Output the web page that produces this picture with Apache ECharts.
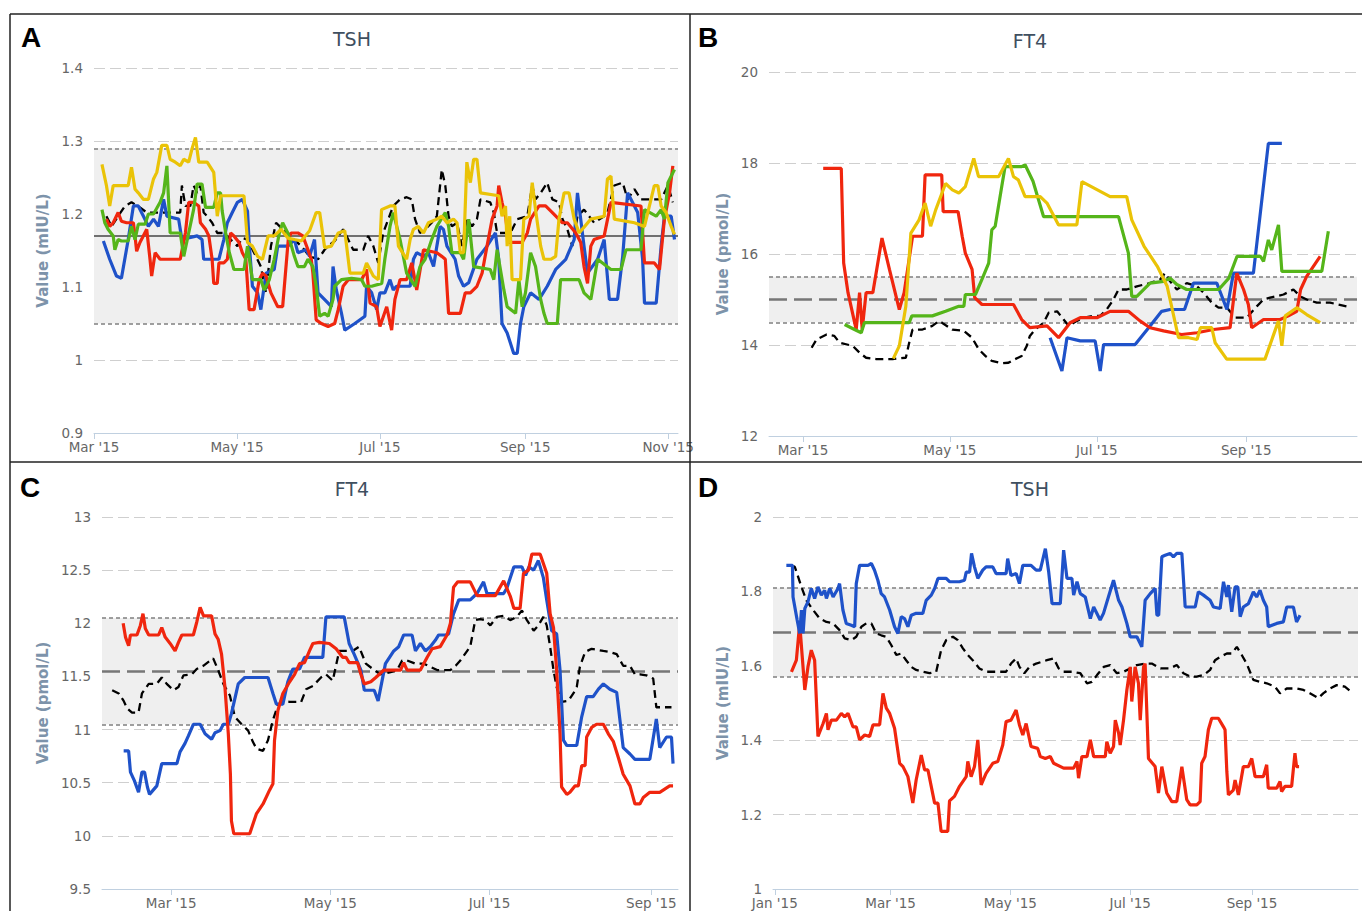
<!DOCTYPE html>
<html><head><meta charset="utf-8">
<script src="https://cdn.jsdelivr.net/npm/echarts@6/dist/echarts.min.js"></script>
<style>html,body{margin:0;padding:0;background:#fff}#c{width:1362px;height:911px}</style>
</head><body><div id="c"></div>
<script>
// x values are day numbers of 2015 (0 = 1 Jan 2015)
const aTickDays = [59, 120, 181, 243, 304];
const aTickLabels = ["Mar '15", "May '15", "Jul '15", "Sep '15", "Nov '15"];
const bTickDays = [59, 120, 181, 243];
const bTickLabels = ["Mar '15", "May '15", "Jul '15", "Sep '15"];
const cTickDays = [59, 120, 181, 243];
const cTickLabels = ["Mar '15", "May '15", "Jul '15", "Sep '15"];
const dTickDays = [0, 59, 120, 181, 243];
const dTickLabels = ["Jan '15", "Mar '15", "May '15", "Jul '15", "Sep '15"];

// reference ranges [low, mid, high]
const aRange = [1.05, 1.17, 1.29];
const bRange = [14.5, 15, 15.5];
const cRange = [11.05, 11.55, 12.05];
const dRange = [1.57, 1.69, 1.81];

// ---- Panel A : TSH (mIU/L)
const aBlack = [[64.3,1.197],[66.5,1.183],[69.3,1.197],[72.2,1.211],[75,1.216],[78.6,1.209],[81.5,1.202],[95.8,1.202],[96.5,1.239],[98,1.211],[100.1,1.211],[101.5,1.239],[103,1.229],[104.4,1.239],[105.8,1.202],[107.3,1.197],[109.4,1.188],[111.6,1.174],[114.4,1.174],[117.3,1.165],[120.2,1.156],[122.3,1.167],[124.5,1.165],[127.3,1.147],[130.2,1.128],[132.4,1.092],[134.5,1.156],[136.7,1.188],[139.5,1.179],[141.7,1.174],[144.5,1.165],[147.4,1.156],[151,1.142],[154.6,1.138],[157.4,1.151],[159.6,1.158],[161.7,1.163],[165.3,1.179],[167.5,1.165],[169.6,1.151],[173.9,1.151],[176,1.170],[178.2,1.156],[180.3,1.133],[182.4,1.174],[184.6,1.193],[186.7,1.211],[189.6,1.220],[192.4,1.223],[194.6,1.220],[196,1.193],[198.1,1.174],[200.3,1.179],[203.1,1.188],[205.3,1.197],[207.4,1.261],[208.9,1.239],[210.3,1.197],[211.7,1.183],[213.9,1.188],[216,1.156],[218.1,1.193],[220.3,1.183],[222.4,1.193],[223.9,1.220],[228.1,1.216],[229.6,1.202],[231,1.174],[236.7,1.174],[239.6,1.193],[243.9,1.197],[246,1.239],[247.4,1.220],[249.6,1.229],[252.4,1.243],[254.6,1.220],[257.4,1.216],[258.9,1.193],[261,1.179],[263.1,1.156],[265.3,1.197],[268.1,1.206],[272.4,1.188],[276.7,1.197],[278.1,1.202],[281,1.239],[284.6,1.243],[286.7,1.220],[289.6,1.234],[292.4,1.220],[301,1.220],[303.9,1.239],[306,1.216]];
const aBlue = [[63,1.163],[65.7,1.138],[68.6,1.115],[70.7,1.112],[73.6,1.165],[75.8,1.211],[77.9,1.211],[80.1,1.197],[82.2,1.183],[84.4,1.193],[86.5,1.183],[88.7,1.220],[90.1,1.197],[95.1,1.193],[96.5,1.165],[103,1.170],[105.1,1.165],[105.8,1.138],[112.3,1.138],[114.4,1.165],[115.9,1.188],[118,1.202],[120.2,1.216],[122.3,1.220],[124.5,1.204],[125.2,1.161],[126.6,1.101],[128.8,1.092],[130.2,1.069],[132.4,1.119],[135.9,1.124],[137.4,1.156],[141.7,1.156],[144.5,1.165],[146,1.147],[149.5,1.151],[151,1.142],[153.1,1.165],[154.6,1.092],[158.9,1.078],[160.3,1.073],[161,1.128],[162.4,1.096],[164.6,1.064],[166,1.041],[170.3,1.050],[174.6,1.060],[175.3,1.101],[177.5,1.092],[179.6,1.069],[181,1.092],[183.1,1.092],[185.3,1.110],[186.7,1.096],[188.1,1.101],[193.9,1.101],[195.3,1.138],[196.7,1.147],[199.6,1.142],[201.7,1.147],[203.9,1.128],[205.3,1.156],[206.7,1.183],[208.1,1.179],[209.6,1.156],[213.1,1.138],[214.6,1.115],[216.7,1.101],[218.9,1.106],[222.4,1.138],[226.7,1.156],[230.3,1.174],[231.7,1.138],[233.1,1.050],[235.3,1.037],[238.1,1.009],[239.6,1.009],[241,1.050],[242.4,1.073],[245.3,1.092],[248.9,1.083],[252.4,1.101],[256,1.124],[260.3,1.138],[263.9,1.165],[265.3,1.229],[268.1,1.156],[269.6,1.119],[273.9,1.138],[276.7,1.165],[278.9,1.083],[282.4,1.083],[284.6,1.142],[286.7,1.229],[291,1.202],[293.1,1.138],[293.9,1.078],[298.9,1.078],[301,1.156],[302.4,1.197],[305.3,1.197],[306.7,1.165]];
const aRed = [[64.3,1.193],[65.7,1.183],[67.2,1.188],[69.3,1.202],[70.7,1.190],[72.9,1.188],[75.8,1.188],[76.5,1.170],[77.2,1.149],[78.6,1.161],[81.5,1.179],[82.9,1.138],[83.6,1.115],[85.1,1.147],[87.2,1.138],[95.8,1.138],[98,1.174],[99.4,1.216],[101.5,1.216],[103.7,1.211],[104.4,1.188],[106.6,1.179],[108,1.170],[109.4,1.138],[110.1,1.105],[111.6,1.105],[112.3,1.133],[114.4,1.133],[115.9,1.138],[117.3,1.174],[118.7,1.170],[120.9,1.161],[122.3,1.147],[123.8,1.138],[125.2,1.069],[127.3,1.069],[129.5,1.110],[130.9,1.119],[132.4,1.115],[134.5,1.092],[137.4,1.073],[139.5,1.073],[141.9,1.165],[143.1,1.174],[146,1.174],[148.1,1.170],[150.3,1.151],[151.7,1.138],[152.4,1.119],[153.8,1.055],[156,1.050],[158.9,1.046],[161.7,1.050],[163.2,1.069],[165.3,1.101],[167.5,1.110],[173.2,1.110],[175.3,1.124],[176.8,1.078],[179.6,1.073],[181,1.046],[183.9,1.073],[186,1.041],[187.4,1.083],[189.6,1.110],[192.4,1.110],[194.6,1.133],[196.7,1.096],[199.6,1.151],[205.3,1.147],[207.4,1.142],[208.9,1.138],[210.3,1.064],[215.3,1.064],[217.4,1.092],[219.6,1.092],[222.4,1.101],[224.6,1.119],[226.7,1.156],[228.9,1.193],[231,1.211],[231.7,1.239],[233.1,1.216],[234.6,1.197],[236,1.161],[241.7,1.161],[243.9,1.174],[245.3,1.193],[248.9,1.211],[251.7,1.211],[254.6,1.202],[258.9,1.188],[261,1.188],[264.6,1.174],[266.7,1.161],[268.1,1.128],[269.6,1.105],[271,1.156],[272.4,1.165],[276.7,1.170],[279.6,1.216],[292.4,1.211],[293.9,1.133],[298.1,1.133],[300.3,1.124],[302.4,1.193],[304.6,1.229],[306,1.266]];
const aGreen = [[62.4,1.206],[63.6,1.188],[65,1.179],[67.2,1.170],[67.9,1.151],[69.3,1.165],[70.7,1.163],[73.6,1.163],[75,1.183],[76.5,1.165],[77.9,1.186],[80.8,1.186],[82.2,1.200],[84.4,1.200],[87.2,1.216],[88.7,1.229],[90.1,1.266],[91.5,1.174],[95.8,1.174],[97.3,1.142],[99.4,1.174],[101.5,1.206],[103,1.241],[105.1,1.241],[106.6,1.209],[110.1,1.209],[111.6,1.229],[113,1.229],[113.7,1.204],[115.2,1.174],[116.6,1.149],[118.7,1.124],[123,1.124],[124.5,1.156],[126.6,1.110],[130.2,1.110],[131.6,1.096],[133.8,1.110],[135.9,1.138],[138.1,1.174],[139.5,1.188],[141.7,1.174],[144.5,1.142],[146,1.128],[148.8,1.128],[150.3,1.138],[152.4,1.128],[153.8,1.101],[155.3,1.060],[157.4,1.064],[158.9,1.060],[161,1.083],[161.7,1.101],[164.6,1.110],[168.9,1.112],[173.2,1.110],[174.6,1.101],[177.5,1.101],[181.8,1.105],[183.1,1.138],[185.3,1.183],[186.7,1.202],[189.6,1.165],[192.4,1.119],[196,1.101],[198.1,1.128],[200.3,1.138],[203.1,1.165],[205.3,1.183],[208.9,1.202],[210.3,1.183],[211.7,1.147],[215.3,1.147],[216.7,1.138],[218.9,1.193],[221,1.128],[228.1,1.124],[229.6,1.110],[231,1.151],[233.9,1.096],[235.3,1.073],[238.9,1.064],[240.3,1.110],[241.7,1.073],[243.1,1.092],[245.3,1.147],[247.4,1.128],[249.6,1.083],[251,1.064],[252.4,1.050],[256.7,1.050],[258.1,1.110],[266,1.110],[268.1,1.092],[271,1.083],[273.9,1.138],[279.6,1.124],[283.9,1.124],[286,1.151],[292.4,1.151],[293.9,1.206],[298.9,1.197],[301,1.206],[302.4,1.193],[303.9,1.243],[306.7,1.261]];
const aYellow = [[62.4,1.268],[64.3,1.239],[65.7,1.211],[67.2,1.239],[73.6,1.239],[75,1.264],[76.5,1.234],[77.9,1.229],[80.1,1.220],[82.2,1.220],[84.4,1.248],[85.8,1.257],[87.9,1.294],[90.1,1.294],[91.5,1.275],[93.7,1.271],[95.8,1.266],[97.3,1.275],[99.4,1.271],[100.8,1.289],[102.3,1.305],[103.7,1.271],[107.3,1.271],[110.1,1.257],[111.6,1.197],[113,1.225],[123,1.225],[124.5,1.161],[126.6,1.156],[128.8,1.142],[130.9,1.138],[133.3,1.170],[135.9,1.170],[138.8,1.179],[141.7,1.167],[144.5,1.165],[147.4,1.163],[151,1.177],[153.8,1.202],[155.3,1.202],[157.4,1.154],[160.3,1.156],[163.2,1.174],[166,1.177],[168.2,1.119],[173.9,1.119],[175.3,1.133],[178.2,1.115],[180.3,1.110],[181.7,1.206],[185.3,1.211],[187.4,1.211],[188.9,1.156],[192.4,1.138],[193.9,1.165],[195.3,1.179],[197.4,1.183],[199.6,1.174],[201.7,1.188],[205.3,1.193],[207.4,1.197],[209.6,1.188],[212.4,1.193],[213.9,1.188],[215.3,1.147],[216.7,1.147],[218.1,1.271],[219.6,1.243],[221,1.275],[222.4,1.275],[223.9,1.229],[231.7,1.225],[233.1,1.197],[234.6,1.211],[235.3,1.156],[236.4,1.197],[237.4,1.110],[241,1.110],[242.4,1.193],[244.6,1.197],[246,1.243],[247.4,1.206],[249.6,1.156],[251,1.138],[253.9,1.138],[256,1.142],[257.4,1.193],[259.6,1.229],[261.7,1.229],[263.9,1.193],[266,1.174],[271,1.193],[276.7,1.197],[278.1,1.248],[279.6,1.252],[281,1.193],[289.6,1.188],[293.9,1.183],[296,1.211],[298.1,1.239],[299.6,1.239],[301,1.211],[303.1,1.202],[305.3,1.183],[306.7,1.172]];

// ---- Panel B : FT4 (pmol/L)
const bBlack = [[62.6,13.94],[64.6,14.12],[68.8,14.23],[72,14.2],[74.2,14.05],[79.7,13.98],[82.5,13.83],[85.2,13.72],[89.4,13.69],[96.2,13.69],[101.7,13.72],[103.1,14.05],[104.5,14.34],[108.6,14.34],[112.7,14.42],[115.5,14.53],[121,14.34],[125.8,14.31],[129.2,14.16],[131.9,13.91],[134.7,13.76],[137.4,13.65],[141.6,13.60],[144.3,13.61],[147.1,13.69],[149.8,13.76],[151.9,13.98],[153.2,14.20],[155.4,14.34],[158.9,14.49],[161,14.71],[164.5,14.74],[167.2,14.56],[169.3,14.42],[172.7,14.53],[175.5,14.6],[179.6,14.64],[182.4,14.64],[185.1,14.78],[187.9,15.0],[190,15.22],[193.4,15.22],[197.6,15.29],[203.1,15.36],[207.3,15.44],[209.3,15.58],[211.4,15.40],[214.2,15.22],[218.3,15.36],[222.6,15.29],[225.3,15.15],[228.7,14.93],[231.5,14.82],[235,14.82],[238.4,14.60],[243.2,14.60],[247.4,14.85],[250.2,15.0],[252.9,15.04],[258.5,15.11],[262.6,15.22],[265.4,15.07],[268.1,15.0],[272.3,14.93],[277.8,14.93],[284.7,14.85]];
const bBlue = [[161.6,14.16],[166.5,13.43],[168.6,14.16],[174.1,14.09],[180.3,14.09],[182.4,13.43],[183.8,14.01],[196.9,14.01],[203.1,14.42],[207.9,14.74],[211.4,14.78],[217.4,14.78],[221.1,15.36],[230.8,15.36],[235,14.78],[237.7,15.58],[246,15.58],[252.2,18.43],[257.8,18.43]];
const bRed = [[67.4,17.88],[74.9,17.88],[75.9,15.80],[77.7,15.15],[81.1,14.34],[82.5,15.15],[83.6,14.34],[85.2,15.15],[88,15.15],[91.8,16.35],[94.9,15.66],[99,14.78],[101,15.15],[104.5,16.39],[108.6,16.39],[109.7,17.74],[116.6,17.74],[117.2,16.93],[123.4,16.93],[125.1,16.39],[126.4,16.02],[129.2,15.66],[130.3,15.04],[133.3,14.89],[146.4,14.89],[149.8,14.56],[153.2,14.38],[160.3,14.42],[165.1,14.16],[169.9,14.49],[174.1,14.6],[181,14.6],[186.5,14.74],[194.1,14.74],[198.9,14.53],[203.1,14.38],[208.7,14.31],[216.2,14.23],[222.6,14.27],[229.4,14.34],[236.3,14.38],[239.1,15.58],[241.9,15.22],[243.9,14.89],[245.3,14.38],[250.2,14.56],[257.1,14.56],[260.5,14.64],[264,14.74],[265.6,15.22],[268.1,15.51],[273.7,15.95]];
const bGreen = [[76.3,14.45],[80.4,14.34],[83.2,14.27],[84.5,14.49],[103.1,14.49],[104.2,14.64],[112.7,14.64],[118.2,14.74],[123.7,14.85],[125.8,14.85],[126.4,15.11],[130.6,15.11],[133.3,15.44],[136.1,15.80],[137.4,16.53],[138.8,16.61],[141.5,17.48],[142.9,17.92],[149.8,17.92],[151.2,17.96],[154.5,17.6],[158.9,16.82],[190,16.82],[194.1,16.02],[195.5,15.07],[197.6,15.07],[203.1,15.36],[208.7,15.40],[211.4,15.47],[214.2,15.33],[218.3,15.22],[231.6,15.22],[235.8,15.47],[239.2,15.95],[248.9,15.95],[250.2,15.84],[252.2,16.31],[253.6,16.09],[256.4,16.64],[257.8,15.62],[274.4,15.62],[277.1,16.50]];
const bYellow = [[96.5,13.70],[99,13.98],[101.7,14.85],[103.8,16.46],[107.2,16.75],[109.7,17.12],[112,16.61],[114.1,16.97],[118.2,17.55],[121,17.41],[123.7,17.34],[126.4,17.48],[129.9,18.10],[131.9,17.70],[140.2,17.70],[144.3,18.10],[146.4,17.70],[148.4,17.63],[151.2,17.26],[157.5,17.26],[160.3,17.12],[165.1,16.64],[172.7,16.64],[174.8,17.59],[186.5,17.26],[193.4,17.26],[195.5,16.75],[200.6,16.17],[206.1,15.73],[210.2,15.29],[214.9,14.16],[219.1,14.16],[222.6,14.12],[224,14.38],[228.7,14.38],[230.1,14.05],[234.9,13.69],[250.8,13.69],[256.4,14.53],[257.8,13.98],[259.2,14.64],[264,14.82],[268.1,14.67],[273.7,14.49]];

// ---- Panel C : FT4 (pmol/L)
const cBlack = [[36.4,11.37],[38.9,11.34],[40.8,11.27],[42.1,11.20],[44,11.16],[46.5,11.16],[47.8,11.34],[50.4,11.43],[53.5,11.43],[55.4,11.49],[57.3,11.43],[59.9,11.37],[61.8,11.40],[63.7,11.51],[66.9,11.52],[68.8,11.57],[71.3,11.60],[75.1,11.67],[77,11.56],[79,11.43],[81.5,11.32],[83.4,11.12],[86,11.05],[88.5,10.99],[90.4,10.88],[91.7,10.82],[94.2,10.80],[96.1,10.90],[98,11.09],[99.9,11.23],[101.8,11.27],[104.4,11.26],[108.8,11.26],[110.7,11.38],[113.3,11.41],[116.4,11.49],[118.3,11.52],[120.9,11.46],[123.4,11.74],[128.5,11.74],[131,11.78],[133.6,11.62],[136.8,11.56],[139.2,11.52],[143.1,11.54],[145.6,11.56],[147.5,11.65],[149.4,11.65],[152.6,11.62],[155.8,11.62],[158.3,11.59],[160.9,11.56],[166,11.56],[168,11.60],[169.8,11.65],[173.6,11.78],[175.5,12.03],[177.4,12.04],[179.3,12.03],[181.3,11.98],[183.8,12.06],[186.4,12.07],[188.9,12.03],[191.4,12.06],[193.4,12.12],[195.3,12.03],[197.9,11.93],[199.7,11.98],[201.6,12.06],[202.9,11.98],[204.2,11.78],[205.5,11.56],[206.7,11.40],[208.6,11.26],[211.2,11.27],[213.1,11.34],[214.4,11.40],[215.6,11.59],[217.6,11.73],[220.1,11.76],[224.6,11.74],[227.1,11.73],[229.7,11.71],[232.2,11.60],[234.8,11.60],[236.7,11.52],[238.6,11.52],[241.1,11.51],[243.7,11.48],[244.9,11.21],[250.7,11.21]];
const cBlue = [[40.8,10.80],[42.7,10.80],[43.4,10.60],[44.9,10.52],[46.5,10.41],[47.8,10.60],[48.8,10.60],[49.9,10.46],[50.7,10.39],[53.5,10.47],[55.4,10.68],[61.2,10.68],[62.4,10.79],[64.3,10.87],[65.6,10.94],[67.5,11.05],[70.1,11.05],[72,10.96],[74.5,10.91],[75.8,10.97],[77.7,10.99],[79,11.05],[80.9,11.05],[82.1,11.15],[84.7,11.43],[87.2,11.49],[96.1,11.49],[98,11.34],[99.3,11.24],[101.8,11.24],[103.7,11.45],[105.6,11.57],[108.2,11.57],[110.1,11.68],[117.1,11.68],[118.3,12.06],[125.3,12.06],[127.2,11.81],[129.1,11.71],[131.7,11.56],[133,11.37],[136.8,11.37],[138.3,11.27],[141.1,11.62],[144.3,11.74],[146.2,11.78],[148.1,11.89],[151.3,11.89],[152.6,11.74],[154.5,11.81],[156.4,11.74],[158.3,11.78],[160.2,11.84],[161.5,11.89],[164.1,11.89],[165.3,11.90],[167.2,12.09],[169.2,12.22],[173.6,12.22],[176.2,12.28],[178.7,12.39],[180,12.28],[186.4,12.28],[187.6,12.33],[190.3,12.53],[193.4,12.53],[194.8,12.45],[196.1,12.53],[197.9,12.50],[199.7,12.59],[201.6,12.43],[202.9,12.22],[204.8,11.93],[206.7,11.90],[208,11.56],[209.3,10.90],[210.6,10.85],[214.4,10.85],[216.3,11.12],[218.2,11.31],[220.7,11.31],[222.7,11.38],[224.6,11.43],[227.1,11.38],[229.7,11.35],[232.2,10.83],[234.8,10.77],[236.7,10.72],[242.4,10.72],[244.9,11.10],[246.2,10.83],[248.8,10.93],[250.7,10.93],[251.3,10.68]];
const cRed = [[40.6,12.0],[41.5,11.87],[42.7,11.79],[43.4,11.89],[45.9,11.89],[47.2,11.98],[48.2,12.09],[49.1,11.95],[50.4,11.89],[54.2,11.89],[55.4,11.96],[56.7,11.87],[58.6,11.81],[60.5,11.74],[61.8,11.82],[63.1,11.89],[67.5,11.89],[68.8,12.01],[70.1,12.15],[71.4,12.07],[74.5,12.07],[75.8,11.90],[77,11.85],[78.3,11.71],[79.6,11.40],[80.9,10.96],[81.7,10.58],[82.1,10.14],[83,10.02],[89.1,10.02],[91.7,10.21],[94.2,10.30],[96.7,10.43],[98,10.49],[98.6,10.90],[99.9,11.18],[101.8,11.34],[104.4,11.45],[106.3,11.52],[108.2,11.62],[110.1,11.63],[112,11.74],[113.3,11.81],[115.8,11.82],[119.6,11.81],[122.2,11.76],[124.7,11.68],[126,11.68],[127.2,11.63],[130.4,11.63],[131.7,11.52],[133,11.43],[135.5,11.45],[137.4,11.49],[140.5,11.56],[146.9,11.56],[148.1,11.63],[149.4,11.56],[154.5,11.56],[157.1,11.68],[159,11.76],[162.1,11.78],[164.7,11.89],[166,12.0],[167.2,12.34],[168.8,12.39],[173.6,12.39],[176.2,12.26],[183.2,12.26],[186.4,12.40],[189,12.25],[190.3,12.14],[192.7,12.14],[194,12.47],[195.9,12.50],[197.2,12.65],[200.4,12.65],[202.9,12.47],[204.2,12.09],[205.5,11.96],[206.7,11.56],[208,10.96],[208.6,10.46],[210.6,10.39],[211.8,10.41],[213.7,10.47],[215,10.47],[216.3,10.66],[217.6,10.66],[218.2,10.93],[220.1,11.02],[222,11.05],[224.6,11.05],[226.5,10.96],[228.4,10.89],[230.3,10.74],[232.2,10.58],[234.8,10.47],[236.7,10.30],[238.6,10.30],[239.9,10.36],[242.4,10.41],[246.2,10.41],[248.1,10.44],[250,10.47],[251.3,10.47]];

// ---- Panel D : TSH (mIU/L)
const dBlack = [[8.5,1.870],[10.2,1.866],[13.6,1.812],[16.1,1.776],[19.5,1.750],[22.9,1.727],[26.3,1.718],[29.7,1.714],[33,1.696],[35.6,1.674],[39,1.669],[41.5,1.678],[44.1,1.705],[46.6,1.714],[49.2,1.714],[51.7,1.687],[54.2,1.682],[56.8,1.678],[59.3,1.656],[61.9,1.629],[64.4,1.633],[66.9,1.615],[69.5,1.597],[72,1.589],[75.4,1.584],[78.8,1.580],[82.2,1.584],[84.7,1.642],[87.3,1.669],[90.7,1.678],[93.2,1.669],[95.8,1.647],[98.3,1.629],[100.8,1.615],[104.2,1.593],[107.6,1.584],[117.8,1.584],[120.3,1.606],[122.9,1.620],[124.6,1.597],[127.1,1.580],[129.7,1.597],[133.1,1.606],[138.6,1.615],[142,1.620],[144.6,1.593],[147.1,1.584],[151.3,1.584],[155.6,1.580],[159,1.553],[161.5,1.557],[164.1,1.575],[167.5,1.597],[170.8,1.602],[174.2,1.580],[177.6,1.584],[181,1.593],[184.4,1.602],[188.6,1.606],[192,1.606],[196.4,1.593],[201.3,1.593],[204.7,1.602],[208.1,1.580],[211.5,1.571],[214.9,1.571],[218.3,1.575],[221.7,1.589],[224.2,1.615],[226.8,1.624],[230.2,1.633],[232.7,1.633],[235.3,1.651],[237.8,1.629],[240.3,1.606],[243.7,1.562],[247.1,1.557],[250.5,1.553],[254.7,1.544],[257.3,1.526],[260.7,1.539],[265.8,1.539],[269.2,1.535],[272.5,1.526],[276.8,1.513],[279.3,1.526],[282.7,1.539],[286.1,1.548],[290.3,1.544],[293.6,1.530]];
const dBlue = [[5.9,1.870],[9,1.870],[9.3,1.785],[11.4,1.723],[12.7,1.687],[13.6,1.750],[14.4,1.687],[15.3,1.754],[16.9,1.772],[18.6,1.808],[20.3,1.781],[22,1.812],[23.7,1.790],[25.4,1.803],[26.3,1.781],[28,1.808],[29.7,1.785],[32.2,1.808],[33,1.821],[34.7,1.750],[36.4,1.714],[39,1.709],[40.7,1.705],[41.5,1.821],[43.2,1.870],[47.5,1.870],[49.2,1.875],[50.8,1.857],[52.5,1.830],[54.2,1.794],[55.9,1.785],[58.5,1.750],[61,1.705],[62.7,1.687],[64.4,1.732],[66.1,1.727],[67.8,1.705],[69.5,1.736],[72,1.741],[75.4,1.741],[77.1,1.776],[79.7,1.790],[81.4,1.808],[83.1,1.835],[87.3,1.835],[89,1.826],[94.1,1.826],[96.6,1.830],[97.5,1.852],[99.2,1.852],[100.2,1.902],[101.7,1.866],[103.4,1.835],[105.9,1.857],[107.6,1.866],[111,1.866],[112.7,1.848],[117.8,1.848],[118.6,1.888],[120.3,1.843],[122.9,1.848],[124.6,1.821],[126.3,1.870],[130.5,1.870],[133.1,1.857],[135.2,1.857],[137.8,1.915],[139.5,1.852],[141.2,1.767],[145.4,1.767],[147.1,1.911],[148.8,1.835],[151.3,1.835],[152.2,1.790],[153.9,1.826],[155.6,1.794],[158.1,1.785],[160.7,1.727],[162.4,1.758],[165.7,1.723],[167.4,1.741],[169.9,1.785],[172.5,1.830],[175.1,1.776],[176.8,1.758],[179.3,1.714],[181,1.678],[184.4,1.678],[186.9,1.651],[188.6,1.776],[191.2,1.794],[193.7,1.808],[194.6,1.736],[195.5,1.736],[197.1,1.893],[198.8,1.897],[201.3,1.902],[203,1.893],[204.7,1.902],[207.3,1.902],[209,1.758],[214.1,1.758],[215.7,1.799],[218.3,1.790],[221.7,1.776],[223.4,1.758],[226.8,1.754],[228.5,1.826],[230.2,1.785],[231,1.817],[232.7,1.745],[234.4,1.812],[235.8,1.812],[237,1.732],[238.6,1.758],[241.2,1.767],[243.7,1.799],[245.4,1.785],[247.1,1.803],[248.8,1.776],[250.5,1.758],[251.3,1.705],[255.6,1.714],[259,1.718],[260.7,1.758],[264.1,1.758],[265.7,1.718],[267.5,1.736]];
const dRed = [[8.5,1.584],[11,1.615],[12.7,1.714],[13.6,1.651],[15.3,1.535],[16.9,1.597],[18.6,1.642],[20.3,1.615],[22,1.410],[24.6,1.445],[26.3,1.472],[27.1,1.428],[28.8,1.454],[31.4,1.454],[33.9,1.472],[35.6,1.463],[37.3,1.472],[39.8,1.436],[41.5,1.436],[43.2,1.401],[45.8,1.414],[48.3,1.410],[50,1.441],[53.4,1.441],[55.1,1.526],[56.8,1.486],[58.5,1.472],[61,1.432],[63.6,1.338],[65.3,1.329],[67.8,1.302],[70.3,1.231],[72,1.293],[74.6,1.360],[76.3,1.320],[78,1.320],[81.4,1.231],[83.1,1.231],[84.7,1.155],[88.1,1.155],[89,1.237],[91.5,1.249],[94.1,1.276],[97.5,1.302],[98.3,1.343],[100,1.302],[101.7,1.329],[103.4,1.401],[105.1,1.280],[107.6,1.311],[111,1.338],[113.6,1.343],[116.1,1.387],[117.8,1.450],[120.3,1.454],[122.9,1.481],[124.6,1.441],[126.3,1.414],[128,1.445],[130.5,1.383],[133.9,1.378],[135.2,1.356],[137.8,1.351],[140.3,1.356],[142,1.338],[147.1,1.325],[152.2,1.325],[153.9,1.343],[154.7,1.298],[156.4,1.356],[159,1.356],[160.7,1.401],[162.4,1.356],[168.3,1.356],[169.1,1.396],[170.8,1.365],[172.5,1.383],[173.4,1.454],[175.1,1.419],[175.9,1.387],[177.6,1.454],[179.3,1.535],[181,1.597],[181.8,1.504],[183.5,1.597],[185.2,1.553],[186.1,1.454],[187.8,1.597],[188.6,1.606],[190.3,1.351],[193.7,1.329],[195.4,1.258],[197.1,1.329],[199.6,1.258],[202.2,1.235],[204.7,1.235],[207.3,1.329],[209.8,1.240],[211.5,1.226],[214.9,1.226],[216.6,1.235],[217.4,1.338],[219.1,1.356],[220.8,1.428],[222.5,1.459],[225.9,1.459],[228.5,1.436],[229.3,1.428],[230.2,1.316],[231,1.253],[233.5,1.266],[234.4,1.293],[236.1,1.253],[238.6,1.329],[241.2,1.329],[242.9,1.351],[244.6,1.302],[248.8,1.302],[250.5,1.334],[251.3,1.271],[255.6,1.271],[257.3,1.289],[258.1,1.262],[259.8,1.276],[263.2,1.276],[264.9,1.365],[265.7,1.329],[267,1.329]];

// ---------------- chart building ----------------
const COLORS = {black:'#000000', blue:'#1f52c9', red:'#f0260e', green:'#55b51a', yellow:'#eac307'};
const FONT = 'DejaVu Sans';

const panels = [
  {grid:{left:94, right:684, top:68, bottom:478}, xMin:59, xMax:308.2, yMin:0.9, yMax:1.4, yStep:0.1,
   ticks:aTickDays, labels:aTickLabels, yName:'Value (mIU/L)', nameGap:44, range:aRange, midSolid:true,
   lines:[['black',aBlack],['blue',aBlue],['red',aRed],['green',aGreen],['yellow',aYellow]]},
  {grid:{left:769, right:5, top:72, bottom:475}, xMin:44.9, xMax:289, yMin:12, yMax:20, yStep:2,
   ticks:bTickDays, labels:bTickLabels, yName:'Value (pmol/L)', nameGap:39, range:bRange, midSolid:false,
   lines:[['black',bBlack],['blue',bBlue],['red',bRed],['green',bGreen],['yellow',bYellow]]},
  {grid:{left:102, right:684, top:517, bottom:22}, xMin:32.5, xMax:253.2, yMin:9.5, yMax:13, yStep:0.5,
   ticks:cTickDays, labels:cTickLabels, yName:'Value (pmol/L)', nameGap:52, range:cRange, midSolid:false,
   lines:[['black',cBlack],['blue',cBlue],['red',cRed]]},
  {grid:{left:773, right:4, top:517, bottom:22}, xMin:-0.9, xMax:297, yMin:1, yMax:2, yStep:0.2,
   ticks:dTickDays, labels:dTickLabels, yName:'Value (mIU/L)', nameGap:43, range:dRange, midSolid:false,
   lines:[['black',dBlack],['red',dRed],['blue',dBlue]]}
];

const grid = [], xAxis = [], yAxis = [], series = [];
panels.forEach((p, i) => {
  grid.push(Object.assign({containLabel:false}, p.grid));
  const fmt = (v) => { const k = p.ticks.findIndex(t => Math.abs(t - v) < 0.01); return k >= 0 ? p.labels[k] : ''; };
  xAxis.push({type:'value', gridIndex:i, min:p.xMin, max:p.xMax,
    axisLine:{show:true, onZero:false, lineStyle:{color:'#c0d0e0', width:1}},
    axisTick:{show:true, customValues:p.ticks, length:6, lineStyle:{color:'#c0d0e0'}},
    axisLabel:{customValues:p.ticks, formatter:fmt, color:'#666', fontSize:13.5, fontFamily:FONT, margin:7},
    splitLine:{show:false}});
  yAxis.push({type:'value', gridIndex:i, min:p.yMin, max:p.yMax, interval:p.yStep,
    name:p.yName, nameLocation:'middle', nameGap:p.nameGap, nameRotate:90,
    nameTextStyle:{color:'#7d93aa', fontWeight:'bold', fontSize:15, fontFamily:FONT},
    axisLine:{show:false}, axisTick:{show:false},
    axisLabel:{color:'#666', fontSize:13.5, fontFamily:FONT, margin:11},
    splitLine:{show:true, lineStyle:{color:'#cfcfcf', width:1, type:[11,5]}}});
  const [lo, mid, hi] = p.range;
  series.push({type:'line', name:'Reference range', xAxisIndex:i, yAxisIndex:i, data:[], silent:true, z:1,
    markArea:{silent:true, z:0, itemStyle:{color:'#efefef'}, data:[[{yAxis:lo},{yAxis:hi}]]},
    markLine:{silent:true, z:1, symbol:'none', animation:false, label:{show:false},
      data:[
        {yAxis:lo, lineStyle:{color:'#808080', width:1.5, type:[4,3]}},
        {yAxis:hi, lineStyle:{color:'#808080', width:1.5, type:[4,3]}},
        {yAxis:mid, lineStyle:p.midSolid ? {color:'#707070', width:2, type:'solid'} : {color:'#777', width:2.5, type:[18,7]}}
      ]}});
  p.lines.forEach(([c, data], k) => {
    const isBlack = c === 'black';
    series.push({type:'line', name:c, xAxisIndex:i, yAxisIndex:i, data:data, showSymbol:false, symbol:'none',
      z:3 + k, animation:false,
      lineStyle: isBlack ? {color:COLORS.black, width:2.3, type:[8,5]} : {color:COLORS[c], width:3.2},
      emphasis:{disabled:true}});
  });
});

const titleStyle = {fontFamily:FONT, fontSize:19, fontWeight:'normal', color:'#3f4f5f'};
const letterStyle = {fontFamily:'Liberation Sans', fontSize:28, fontWeight:'bold', color:'#000'};
const title = [
  {text:'TSH', left:352, top:29, textAlign:'center', padding:0, textStyle:titleStyle},
  {text:'FT4', left:1030, top:31, textAlign:'center', padding:0, textStyle:titleStyle},
  {text:'FT4', left:352, top:479, textAlign:'center', padding:0, textStyle:titleStyle},
  {text:'TSH', left:1030, top:479, textAlign:'center', padding:0, textStyle:titleStyle},
  {text:'A', left:21, top:23, padding:0, textStyle:letterStyle},
  {text:'B', left:698, top:23, padding:0, textStyle:letterStyle},
  {text:'C', left:20, top:473, padding:0, textStyle:letterStyle},
  {text:'D', left:698, top:473, padding:0, textStyle:letterStyle}
];

const border = {stroke:'#222', lineWidth:1.5};
const graphic = [
  {type:'line', shape:{x1:10, y1:14, x2:1362, y2:14}, style:border, z:100},
  {type:'line', shape:{x1:10, y1:14, x2:10, y2:911}, style:border, z:100},
  {type:'line', shape:{x1:690, y1:14, x2:690, y2:911}, style:border, z:100},
  {type:'line', shape:{x1:10, y1:462, x2:1362, y2:462}, style:border, z:100}
];

const chart = echarts.init(document.getElementById('c'), null, {renderer:'svg'});
chart.setOption({animation:false, backgroundColor:'#fff', title, grid, xAxis, yAxis, series, graphic});
</script></body></html>
